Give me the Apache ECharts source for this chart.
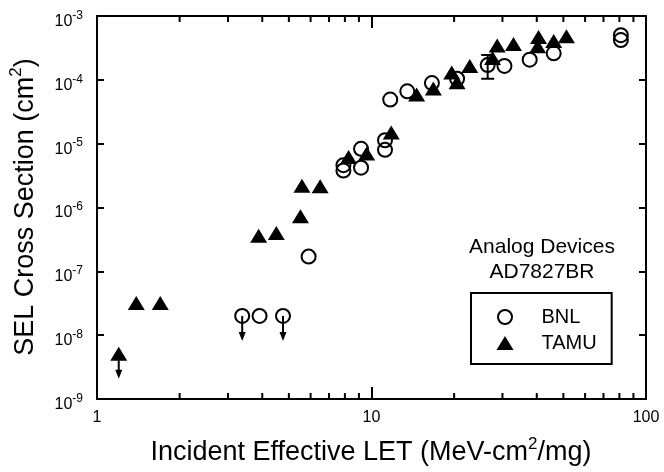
<!DOCTYPE html>
<html><head><meta charset="utf-8">
<script src="https://cdn.jsdelivr.net/npm/echarts@6/dist/echarts.min.js"></script>
<style>html,body{margin:0;padding:0;background:#fff}#c{width:664px;height:472px}</style>
</head><body><div id="c"></div>
<script>
// ---- data ----
const bnlLET   = [3.38, 3.91, 4.76, 5.90, 7.9, 7.9, 9.16, 9.16, 11.2, 11.2, 11.7, 13.5, 16.6, 20.5, 26.5, 30.5, 37.7, 46.1, 81, 81];
const bnlSigma = [2.0e-8, 2.0e-8, 2.0e-8, 1.7e-7, 4.6e-6, 3.8e-6, 8.3e-6, 4.2e-6, 1.13e-5, 8.0e-6, 4.9e-5, 6.6e-5, 8.9e-5, 1.04e-4, 1.7e-4, 1.65e-4, 2.07e-4, 2.6e-4, 5.0e-4, 4.2e-4];
const bnlUpperLimit = [true, false, true, false, false, false, false, false, false, false, false, false, false, false, false, false, false, false, false, false];

const tamuLET   = [1.20, 1.39, 1.70, 3.88, 4.50, 5.51, 5.58, 6.50, 8.25, 9.6, 11.8, 14.6, 16.8, 19.6, 20.5, 22.8, 27.6, 28.7, 32.9, 40.3, 40.6, 46.1, 51.3];
const tamuSigma = [5.1e-9, 3.2e-8, 3.2e-8, 3.6e-7, 4.0e-7, 7.3e-7, 2.2e-6, 2.15e-6, 6.2e-6, 7.0e-6, 1.5e-5, 5.9e-5, 7.3e-5, 1.3e-4, 9.2e-5, 1.65e-4, 2.2e-4, 3.45e-4, 3.65e-4, 3.35e-4, 4.7e-4, 4.05e-4, 4.8e-4];
const tamuUpperLimit = [true, false, false, false, false, false, false, false, false, false, false, false, false, false, false, false, false, false, false, false, false, false, false];

// error bar on BNL point at LET 26.5
const errLET  = [26.5];
const errLow  = [1.04e-4];
const errHigh = [2.45e-4];

const xMin = 1, xMax = 100;
const yMin = 1e-9, yMax = 1e-3;
const xMinorTicks = [2, 3, 4, 5, 6, 7, 8, 9, 20, 30, 40, 50, 60, 70, 80, 90];

const seriesNames = ['BNL', 'TAMU'];
const annotationLines = ['Analog Devices', 'AD7827BR'];
const xTitle = ['Incident Effective LET (MeV-cm', '2', '/mg)'];
const yTitle = ['SEL Cross Section (cm', '2', ')'];

// ---- chart ----
const FONT = 'Liberation Sans, Arial, Helvetica, sans-serif';
const TICKC = '#000';
const chart = echarts.init(document.getElementById('c'), null, {renderer: 'canvas'});

const zip = (a, b) => a.map((v, i) => [v, b[i]]);

const limitPts = [];
bnlLET.forEach((v, i) => { if (bnlUpperLimit[i]) limitPts.push([v, bnlSigma[i]]); });
tamuLET.forEach((v, i) => { if (tamuUpperLimit[i]) limitPts.push([v, tamuSigma[i]]); });

const axisCommonX = {
  type: 'log', logBase: 10, min: xMin, max: xMax,
  axisLine: {lineStyle: {color: '#000', width: 2}},
  axisTick: {show: true, inside: true, length: 12, lineStyle: {color: TICKC, width: 2}},
  splitLine: {show: false}
};
const axisCommonY = {
  type: 'log', logBase: 10, min: yMin, max: yMax,
  axisLine: {lineStyle: {color: '#000', width: 2}},
  axisTick: {show: true, inside: true, length: 7, lineStyle: {color: TICKC, width: 2}},
  splitLine: {show: false}
};

const titleRich = {
  a: {fontSize: 27, fontFamily: FONT, color: '#000', verticalAlign: 'bottom', lineHeight: 27},
  s: {fontSize: 17, fontFamily: FONT, color: '#000', verticalAlign: 'top', lineHeight: 31}
};

const option = {
  animation: false,
  backgroundColor: '#fff',
  textStyle: {fontFamily: FONT},
  grid: {left: 97, right: 18, top: 16, bottom: 73, containLabel: false, outerBoundsMode: 'none'},
  xAxis: [
    Object.assign({}, axisCommonX, {position: 'bottom',
      axisLabel: {color: '#000', fontSize: 16, fontFamily: FONT, margin: 11}}),
    Object.assign({}, axisCommonX, {position: 'top', axisLabel: {show: false}})
  ],
  yAxis: [
    Object.assign({}, axisCommonY, {position: 'left',
      axisLabel: {
        color: '#000', fontFamily: FONT, margin: 14,
        padding: [5, 0, 0, 0],
        formatter: v => '{b|10}{s|' + Math.round(Math.log10(v)) + '}',
        rich: {
          b: {fontSize: 16, fontFamily: FONT, color: '#000', verticalAlign: 'bottom', lineHeight: 22},
          s: {fontSize: 12, fontFamily: FONT, color: '#000', verticalAlign: 'top', padding: [2, 0, 0, 0]}
        }
      }}),
    Object.assign({}, axisCommonY, {position: 'right', axisLabel: {show: false}})
  ],
  legend: {
    data: seriesNames,
    orient: 'vertical',
    left: 471, top: 293,
    padding: [14, 15, 11, 25.5],
    itemGap: 6,
    itemWidth: 17, itemHeight: 14,
    borderColor: '#000', borderWidth: 2,
    textStyle: {fontSize: 20, color: '#000', fontFamily: FONT, padding: [0, 0, 0, 23]},
    selectedMode: false
  },
  graphic: [
    {type: 'text', x: 542, y: 247, style: {text: annotationLines[0], align: 'center', verticalAlign: 'middle', font: '21px ' + FONT, fill: '#000'}},
    {type: 'text', x: 542, y: 272, style: {text: annotationLines[1], align: 'center', verticalAlign: 'middle', font: '21px ' + FONT, fill: '#000'}},
    {type: 'text', x: 371, y: 451, style: {
      text: '{a|' + xTitle[0] + '}{s|' + xTitle[1] + '}{a|' + xTitle[2] + '}',
      align: 'center', verticalAlign: 'middle', rich: titleRich}},
    {type: 'text', x: 23.5, y: 207, rotation: Math.PI / 2, style: {
      text: '{a|' + yTitle[0] + '}{s|' + yTitle[1] + '}{a|' + yTitle[2] + '}',
      align: 'center', verticalAlign: 'middle', rich: titleRich}}
  ],
  series: [
    {
      type: 'custom', name: 'minorTicks', silent: true, clip: false,
      xAxisIndex: 0, yAxisIndex: 0, z: 5,
      data: xMinorTicks.map(v => [v, yMin]),
      renderItem: (params, api) => {
        const v = api.value(0);
        const b = api.coord([v, yMin]);
        const t = api.coord([v, yMax]);
        const st = {stroke: TICKC, lineWidth: 2};
        return {type: 'group', children: [
          {type: 'line', shape: {x1: b[0], y1: b[1], x2: b[0], y2: b[1] - 6}, style: st},
          {type: 'line', shape: {x1: t[0], y1: t[1], x2: t[0], y2: t[1] + 6}, style: st}
        ]};
      }
    },
    {
      type: 'custom', name: 'errorBars', silent: true, clip: false,
      data: errLET.map((v, i) => [v, errLow[i], errHigh[i]]),
      encode: {x: 0, y: [1, 2]},
      renderItem: (params, api) => {
        const lo = api.coord([api.value(0), api.value(1)]);
        const hi = api.coord([api.value(0), api.value(2)]);
        const st = {stroke: '#000', lineWidth: 2};
        const w = 6.5;
        return {type: 'group', children: [
          {type: 'line', shape: {x1: lo[0], y1: lo[1], x2: hi[0], y2: hi[1]}, style: st},
          {type: 'line', shape: {x1: lo[0] - w, y1: lo[1], x2: lo[0] + w, y2: lo[1]}, style: st},
          {type: 'line', shape: {x1: hi[0] - w, y1: hi[1], x2: hi[0] + w, y2: hi[1]}, style: st}
        ]};
      }
    },
    {
      type: 'custom', name: 'upperLimits', silent: true, clip: false,
      data: limitPts,
      renderItem: (params, api) => {
        const p = api.coord([api.value(0), api.value(1)]);
        const len = 25, hh = 9, hw = 3.5;
        return {type: 'group', children: [
          {type: 'line', shape: {x1: p[0], y1: p[1], x2: p[0], y2: p[1] + len - hh + 1}, style: {stroke: '#000', lineWidth: 2}},
          {type: 'polygon', shape: {points: [[p[0] - hw, p[1] + len - hh], [p[0] + hw, p[1] + len - hh], [p[0], p[1] + len]]}, style: {fill: '#000'}}
        ]};
      }
    },
    {
      type: 'scatter', name: 'BNL',
      data: zip(bnlLET, bnlSigma),
      symbol: 'circle', symbolSize: 14,
      itemStyle: {color: 'rgba(0,0,0,0)', borderColor: '#000', borderWidth: 2, opacity: 1},
      emphasis: {disabled: true},
      z: 3
    },
    {
      type: 'scatter', name: 'TAMU',
      data: zip(tamuLET, tamuSigma),
      symbol: 'triangle', symbolSize: [17, 14],
      itemStyle: {color: '#000', opacity: 1},
      emphasis: {disabled: true},
      z: 4
    }
  ]
};
chart.setOption(option);
</script>
</body></html>
